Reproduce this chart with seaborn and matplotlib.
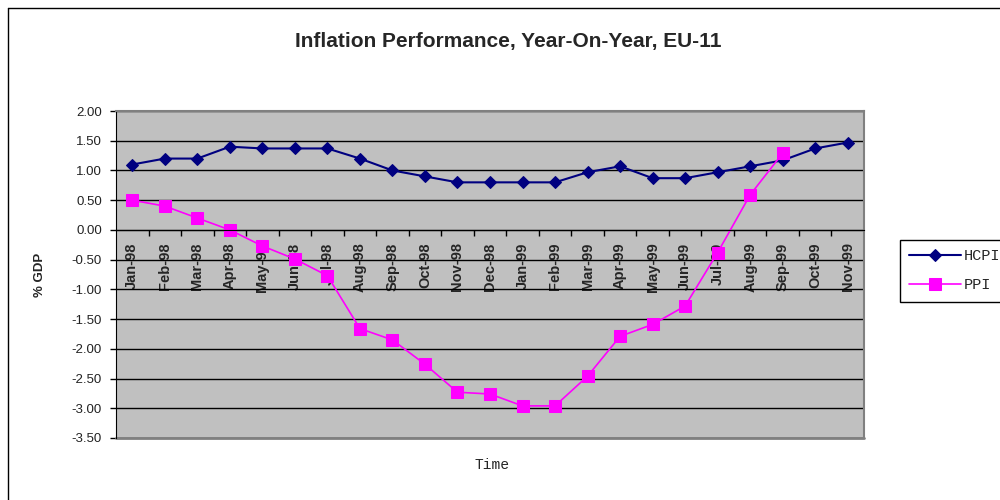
import numpy as np
import pandas as pd
import matplotlib
matplotlib.use("Agg")
import matplotlib.pyplot as plt
from matplotlib.lines import Line2D
from matplotlib.ticker import FixedLocator, FormatStrFormatter
import seaborn as sns

months = ["Jan-98", "Feb-98", "Mar-98", "Apr-98", "May-98", "Jun-98", "Jul-98",
          "Aug-98", "Sep-98", "Oct-98", "Nov-98", "Dec-98", "Jan-99", "Feb-99",
          "Mar-99", "Apr-99", "May-99", "Jun-99", "Jul-99", "Aug-99", "Sep-99",
          "Oct-99", "Nov-99"]
hcpi = [1.1, 1.2, 1.2, 1.4, 1.37, 1.37, 1.37, 1.2, 1.0, 0.9, 0.8, 0.8, 0.8, 0.8,
        0.97, 1.07, 0.87, 0.87, 0.97, 1.07, 1.17, 1.37, 1.47]
ppi = [0.5, 0.4, 0.2, 0.0, -0.27, -0.49, -0.77, -1.66, -1.85, -2.26, -2.73, -2.76,
       -2.96, -2.96, -2.46, -1.79, -1.59, -1.28, -0.38, 0.59, 1.29, np.nan, np.nan]
yticks = [2.0, 1.5, 1.0, 0.5, 0.0, -0.5, -1.0, -1.5, -2.0, -2.5, -3.0, -3.5]

df = pd.DataFrame({"pos": range(len(months)), "month": months, "HCPI": hcpi, "PPI": ppi})

sns.set_style("white")
plt.rcParams["font.family"] = ["Liberation Sans", "DejaVu Sans"]
mono = ["Liberation Mono", "DejaVu Sans Mono"]

fig = plt.figure(figsize=(10, 5), dpi=100)
ax = fig.add_axes([0.116, 0.124, 0.748, 0.654])
ax.set_facecolor("#C0C0C0")

sns.lineplot(data=df, x="pos", y="HCPI", ax=ax, color="#000080", linewidth=1.5,
             marker="D", markersize=6.5, markeredgecolor="#000080", label="HCPI")
sns.lineplot(data=df, x="pos", y="PPI", ax=ax, color="#FF00FF", linewidth=1.2,
             marker="s", markersize=9, markeredgecolor="#FF00FF", label="PPI")

# move the category axis to y = 0 first (this resets the ticks)
ax.spines["bottom"].set_position(("data", 0))
ax.spines["bottom"].set_color("black")
ax.spines["left"].set_color("black")
for s in ["top", "right"]:
    ax.spines[s].set_color("#808080")
    ax.spines[s].set_linewidth(1.5)

ax.set_xlim(-0.5, len(months) - 0.5)
ax.set_ylim(min(yticks), max(yticks))
ax.set_yticks(yticks)
ax.yaxis.set_major_formatter(FormatStrFormatter("%.2f"))
ax.yaxis.grid(True, color="black", linewidth=1)
ax.set_axisbelow(True)
ax.axhline(min(yticks), color="#808080", linewidth=2, clip_on=False)

ax.set_xticks(df["pos"])
ax.xaxis.set_minor_locator(FixedLocator(np.arange(0.5, len(months) - 1, 1.0)))
ax.tick_params(axis="x", which="major", length=0, pad=9, labelrotation=90, labelsize=10.5)
ax.tick_params(axis="x", which="minor", length=4, width=1, color="black", direction="out", bottom=True)
ax.tick_params(axis="y", length=4, width=1, color="black", direction="out", left=True,
               labelsize=9.5, pad=6, labelcolor="#222222")
ax.set_xticklabels(months, fontweight="bold", va="top", ha="center")

ax.set_xlabel("")
ax.set_ylabel("")
fig.text(0.508, 1 - 42 / 500, "Inflation Performance, Year-On-Year, EU-11",
         ha="center", va="center", fontsize=15, fontweight="bold")
fig.text(0.040, 1 - 275 / 500, "% GDP", rotation=90, ha="center", va="center",
         fontsize=9.5, fontweight="bold")
fig.text(0.492, 1 - 465 / 500, "Time", ha="center", va="center", fontsize=10.5, family=mono)

leg = ax.legend(loc="upper left", bbox_to_anchor=(0.900, 1 - 240 / 500),
                bbox_transform=fig.transFigure, frameon=True, fancybox=False,
                edgecolor="black", framealpha=1, handlelength=3.4, handletextpad=0.2,
                labelspacing=1.0, numpoints=1, borderaxespad=0, borderpad=0.6,
                prop={"family": mono, "size": 11})
leg.get_frame().set_linewidth(1)

# chart border (extends past the image edge)
fig.add_artist(Line2D([0.008, 0.008], [0, 0.984], color="black", linewidth=1))
fig.add_artist(Line2D([0.008, 1], [0.984, 0.984], color="black", linewidth=1))

fig.savefig("out.png", dpi=100)
